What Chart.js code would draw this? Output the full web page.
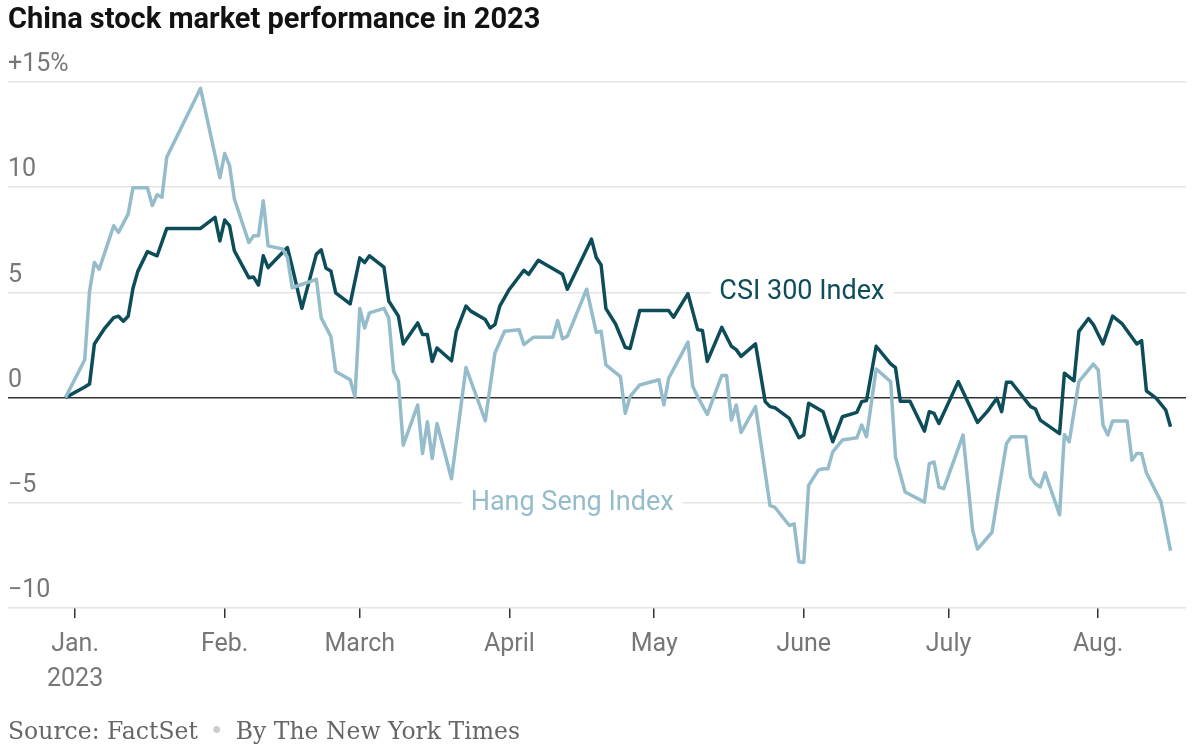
<!DOCTYPE html>
<html>
<head>
<meta charset="utf-8">
<script src="https://cdn.jsdelivr.net/npm/chart.js@4.4.0/dist/chart.umd.min.js"></script>
<style>
  html, body { margin: 0; padding: 0; background: #fff; }
  #wrap { position: relative; width: 1200px; height: 751px; overflow: hidden; }
  #title {
    position: absolute; left: 8px; top: 1px;
    font: 700 29px Roboto, sans-serif; letter-spacing: 0; color: #121212;
  }
  #source {
    position: absolute; left: 8px; top: 717px;
    font: 23.5px 'DejaVu Serif', serif; color: #666;
  }
  #source .dot { color: #ccc; margin: 0 12px; }
  canvas { position: absolute; left: 0; top: 0; }
</style>
</head>
<body>
<div id="wrap">
  <canvas id="lineChart" width="1200" height="751"></canvas>
  <div id="title">China stock market performance in 2023</div>
  <div id="source">Source: FactSet<span class="dot">•</span>By The New York Times</div>
</div>
<script>
Chart.defaults.font.family = 'Roboto'

// days since Jan. 1, 2023 / % change since end of 2022
const csiDays = [-2, 2, 3, 4, 6, 8, 9, 10, 11, 12, 13, 15, 17, 19, 26, 29, 30, 31, 32, 33,
  36, 37, 38, 39, 40, 44, 45, 47, 50, 51, 52, 53, 54, 57, 59, 60, 61, 64, 65, 67,
  68, 71, 72, 73, 74, 75, 78, 79, 81, 82, 85, 86, 87, 88, 90, 93, 94, 96, 101, 102,
  107, 108, 109, 110, 112, 114, 115, 117, 123, 124, 127, 129, 130, 131, 134, 136, 137, 138, 141, 143,
  144, 145, 148, 150, 151, 152, 155, 157, 159, 162, 163, 164, 166, 169, 170, 171, 173, 176, 177, 178,
  179, 183, 187, 189, 191, 192, 193, 194, 198, 199, 200, 204, 205, 207, 208, 210, 211, 213, 215, 217,
  220, 221, 222, 224, 226, 227]
const csiValues = [0, 0.5, 0.65, 2.55, 3.25, 3.8, 3.87, 3.63, 3.87, 5.2, 6.0, 6.94, 6.74, 8.04, 8.04, 8.57, 7.45, 8.44, 8.17, 6.98,
  5.7, 5.73, 5.35, 6.74, 6.18, 7.13, 6.2, 4.24, 6.82, 7.02, 6.15, 6.02, 4.98, 4.45, 6.64, 6.42, 6.74, 6.2, 4.59, 3.87,
  2.55, 3.55, 3.0, 3.0, 1.72, 2.36, 1.75, 3.15, 4.35, 4.11, 3.71, 3.31, 3.47, 4.35, 5.15, 6.05, 5.86, 6.53, 5.86, 5.15,
  7.53, 6.66, 6.3, 4.23, 3.5, 2.39, 2.33, 4.14, 4.14, 3.82, 4.94, 3.23, 3.19, 1.72, 3.34, 2.44, 2.28, 1.96, 2.55, -0.19,
  -0.43, -0.48, -0.99, -1.91, -1.78, -0.27, -0.67, -2.1, -0.91, -0.7, -0.19, -0.14, 2.44, 1.6, 1.42, -0.17, -0.17, -1.59, -0.67, -0.75,
  -1.23, 0.76, -1.18, -0.67, -0.03, -0.67, 0.73, 0.73, -0.43, -0.54, -1.07, -1.71, 1.16, 0.8, 3.15, 3.76, 3.47, 2.55, 3.87, 3.5,
  2.55, 2.71, 0.32, -0.03, -0.59, -1.39]

const hsiDays = [-2, 2, 3, 4, 5, 8, 9, 11, 12, 15, 16, 17, 18, 19, 26, 30, 31, 32, 33, 36,
  37, 38, 39, 40, 43, 44, 45, 50, 51, 53, 54, 57, 58, 59, 60, 61, 64, 65, 66, 67,
  68, 71, 72, 73, 74, 75, 78, 81, 85, 87, 89, 92, 93, 95, 99, 100, 101, 102, 106, 108,
  109, 110, 113, 114, 115, 117, 121, 122, 123, 127, 128, 129, 131, 134, 135, 136, 137, 138, 141, 144,
  145, 148, 149, 150, 151, 152, 154, 155, 156, 157, 159, 162, 163, 164, 166, 169, 170, 172, 176, 177,
  178, 179, 180, 184, 186, 187, 190, 191, 193, 194, 197, 198, 199, 200, 201, 204, 205, 206, 208, 211,
  212, 213, 214, 215, 218, 219, 220, 221, 222, 225, 227]
const hsiValues = [0, 1.8, 5.06, 6.42, 6.1, 8.17, 7.85, 8.73, 9.97, 9.97, 9.13, 9.64, 9.52, 11.43, 14.7, 10.45, 11.6, 11.04, 9.45, 7.37,
  7.69, 7.69, 9.36, 7.21, 7.06, 6.66, 5.22, 5.62, 3.79, 2.91, 1.24, 0.85, 0.05, 4.24, 3.31, 4.03, 4.24, 3.79, 1.24, 0.76,
  -2.26, -0.35, -2.66, -1.15, -2.9, -1.23, -3.86, 1.43, -1.1, 2.12, 3.15, 3.23, 2.52, 2.87, 2.87, 3.66, 2.8, 2.91, 5.15, 3.1,
  3.15, 1.55, 1.0, -0.75, 0.05, 0.6, 0.85, -0.35, 0.92, 2.64, 0.53, 0.05, -0.8, 1.05, 1.05, -1.07, -0.35, -1.66, -0.43, -5.13,
  -5.21, -6.08, -6.0, -7.8, -7.84, -4.17, -3.45, -3.38, -3.38, -2.58, -2.02, -1.91, -1.3, -1.86, 1.36, 0.76, -2.82, -4.49, -4.97, -3.14,
  -3.06, -4.25, -4.33, -1.78, -6.32, -7.2, -6.4, -4.97, -2.18, -1.86, -1.86, -3.77, -4.09, -4.25, -3.57, -5.57, -1.75, -2.1, 0.76, 1.59,
  1.32, -1.3, -1.78, -1.11, -1.11, -2.98, -2.66, -2.66, -3.57, -4.94, -7.28]

const monthStarts = [0, 31, 59, 90, 120, 151, 181, 212]
const monthLabels = [['Jan.', '2023'], 'Feb.', 'March', 'April', 'May', 'June', 'July', 'Aug.']
const yTicks = [-10, -5, 0, 5, 10, 15]
const yLabels = ['\u221210', '\u22125', '0', '5', '10', '+15%']

const csiColor = '#0d4d5a'
const hsiColor = '#95bccb'

const seriesLabels = [
  { text: 'CSI 300 Index', day: 150.6, value: 5, color: csiColor },
  { text: 'Hang Seng Index', day: 103, value: -5, color: hsiColor },
]

const toPoints = (days, values) => days.map((d, i) => ({ x: d, y: values[i] }))

const labelPlugin = {
  id: 'seriesLabels',
  beforeDatasetsDraw(chart) {
    const { ctx, scales: { x, y } } = chart
    ctx.save()
    ctx.font = '27px Roboto'
    ctx.textAlign = 'center'
    ctx.textBaseline = 'middle'
    seriesLabels.forEach((l) => {
      const px = x.getPixelForValue(l.day)
      const py = y.getPixelForValue(l.value)
      const w = ctx.measureText(l.text).width
      ctx.fillStyle = '#fff'
      ctx.fillRect(px - w / 2 - 9, py - 4, w + 18, 8)
      ctx.fillStyle = l.color
      ctx.fillText(l.text, px, py)
    })
    ctx.restore()
  }
}

const renderLineChart = () => {
  const lineChart = document.getElementById('lineChart')

  new Chart(lineChart, {
    type: 'line',
    data: {
      datasets: [{
        label: 'Hang Seng Index',
        data: toPoints(hsiDays, hsiValues),
        borderColor: hsiColor,
        borderWidth: 3.5,
        pointRadius: 0,
        tension: 0,
        borderJoinStyle: 'round'
      }, {
        label: 'CSI 300 Index',
        data: toPoints(csiDays, csiValues),
        borderColor: csiColor,
        borderWidth: 3.5,
        pointRadius: 0,
        tension: 0,
        borderJoinStyle: 'round'
      }],
    },
    options: {
      responsive: false,
      animation: false,
      layout: {
        padding: { top: 82, left: 8, right: 14, bottom: 45 }
      },
      plugins: {
        legend: { display: false },
        tooltip: { enabled: false }
      },
      scales: {
        x: {
          type: 'linear',
          min: -13.9,
          max: 230.2,
          afterBuildTicks: (scale) => {
            scale.ticks = monthStarts.map((v) => ({ value: v }))
          },
          border: { display: false },
          grid: {
            drawOnChartArea: false,
            drawTicks: true,
            tickLength: 10,
            color: '#333',
            lineWidth: 1.5
          },
          ticks: {
            padding: 9,
            color: '#777',
            font: { size: 25, lineHeight: 1.4 },
            maxRotation: 0,
            autoSkip: false,
            callback: (value) => monthLabels[monthStarts.indexOf(value)]
          }
        },
        y: {
          min: -10,
          max: 15,
          afterBuildTicks: (scale) => {
            scale.ticks = yTicks.map((v) => ({ value: v }))
          },
          border: { display: false },
          grid: {
            drawTicks: false,
            color: (c) => c.tick.value === 0 ? '#333' : '#e4e4e4',
            lineWidth: 1.5
          },
          ticks: {
            mirror: true,
            padding: 0,
            labelOffset: -17,
            color: '#777',
            font: { size: 25 },
            callback: (value) => yLabels[yTicks.indexOf(value)]
          }
        }
      }
    },
    plugins: [labelPlugin]
  })
}

document.addEventListener('DOMContentLoaded', () => {
  renderLineChart()
})
</script>
</body>
</html>
